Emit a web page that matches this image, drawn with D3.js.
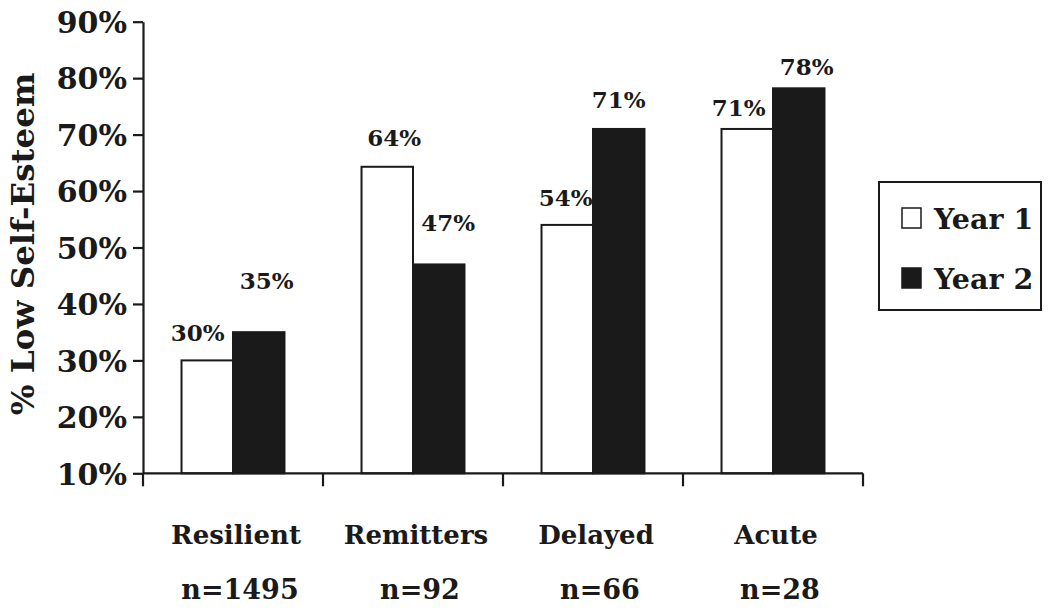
<!DOCTYPE html>
<html>
<head>
<meta charset="utf-8">
<script src="https://cdn.jsdelivr.net/npm/d3@7"></script>
<style>
  html, body { margin: 0; padding: 0; background: #fff; }
  svg { display: block; }
  text { font-family: "DejaVu Serif", "Liberation Serif", serif; font-weight: bold; fill: #1a1a1a; }
</style>
</head>
<body>
<svg id="chart" width="1050" height="614"></svg>
<script>
// ---- data ----
const categories = ["Resilient", "Remitters", "Delayed", "Acute"];
const sampleSizes = ["n=1495", "n=92", "n=66", "n=28"];
const series = ["Year 1", "Year 2"];
const year1 = [30, 64.3, 54, 71];
const year2 = [35, 47, 71, 78.2];
const year1Labels = ["30%", "64%", "54%", "71%"];
const year2Labels = ["35%", "47%", "71%", "78%"];
const yTicks = [10, 20, 30, 40, 50, 60, 70, 80, 90];

// ---- layout ----
const svg = d3.select("#chart");
const ink = "#1a1a1a";
const plotLeft = 143, plotRight = 863, plotTop = 21.7, plotBottom = 473.3;

const y = d3.scaleLinear().domain([10, 90]).range([plotBottom, plotTop]);
const x0 = d3.scaleBand().domain(categories).range([plotLeft, plotRight]).padding(0);
const x1 = d3.scaleBand().domain(series).range([0, x0.bandwidth()]).paddingInner(0).paddingOuter(0.748);

// label nudges (annotation layout, px): [dx, dy above bar top]
const nudge1 = [[-9.5, 19], [7, 20.5], [-1.5, 19], [-8.5, 13.3]];
const nudge2 = [[8, 43], [9.5, 33], [0, 21], [8, 13.7]];

const rows = categories.map((c, i) => ({ c, i, v: [year1[i], year2[i]], l: [year1Labels[i], year2Labels[i]] }));

// bars
const g = svg.append("g");
rows.forEach(r => {
  series.forEach((s, k) => {
    const xb = x0(r.c) + x1(s);
    g.append("rect")
      .attr("x", xb)
      .attr("y", y(r.v[k]))
      .attr("width", x1.bandwidth())
      .attr("height", y(10) - y(r.v[k]))
      .attr("fill", k === 0 ? "#fff" : ink)
      .attr("stroke", ink)
      .attr("stroke-width", 2);
    const nd = (k === 0 ? nudge1 : nudge2)[r.i];
    g.append("text")
      .attr("x", xb + x1.bandwidth() / 2 + nd[0])
      .attr("y", y(r.v[k]) - nd[1])
      .attr("text-anchor", "middle")
      .attr("font-size", 23)
      .text(r.l[k]);
  });
});

// y axis
const yAxis = d3.axisLeft(y).tickValues(yTicks).tickFormat(d => d + "%").tickSize(10).tickSizeOuter(0).tickPadding(6);
const ya = svg.append("g").attr("transform", `translate(${plotLeft},0)`).call(yAxis);
ya.attr("font-family", null);
ya.select(".domain").attr("stroke", ink).attr("stroke-width", 2.2);
ya.selectAll(".tick line").attr("stroke", ink).attr("stroke-width", 2.2);
ya.selectAll(".tick text").attr("font-size", 30).attr("fill", ink).attr("dy", "0.36em");

// x axis line and boundary ticks
const bounds = categories.map(c => x0(c)).concat([x0.range()[1]]);
svg.append("line").attr("x1", plotLeft).attr("x2", plotRight).attr("y1", plotBottom).attr("y2", plotBottom)
  .attr("stroke", ink).attr("stroke-width", 2.2);
svg.selectAll(".xtick").data(bounds).join("line")
  .attr("x1", d => d).attr("x2", d => d)
  .attr("y1", plotBottom).attr("y2", plotBottom + 13)
  .attr("stroke", ink).attr("stroke-width", 2.2);

// category labels
svg.selectAll(".cat").data(categories).join("text")
  .attr("x", d => x0(d) + x0.bandwidth() / 2 + 3)
  .attr("y", 544)
  .attr("text-anchor", "middle")
  .attr("font-size", 26)
  .text(d => d);
svg.selectAll(".n").data(sampleSizes).join("text")
  .attr("x", (d, i) => x0(categories[i]) + x0.bandwidth() / 2 + 7)
  .attr("y", 599)
  .attr("text-anchor", "middle")
  .attr("font-size", 27)
  .text(d => d);

// y title
svg.append("text")
  .attr("transform", `translate(34,244) rotate(-90)`)
  .attr("text-anchor", "middle")
  .attr("font-size", 32.5)
  .text("% Low Self-Esteem");

// legend
const lg = svg.append("g");
lg.append("rect").attr("x", 879).attr("y", 182).attr("width", 162).attr("height", 128)
  .attr("fill", "#fff").attr("stroke", ink).attr("stroke-width", 2);
series.forEach((s, k) => {
  const cy = k === 0 ? 218 : 278;
  lg.append("rect").attr("x", 902).attr("y", cy - 10).attr("width", 19).attr("height", 20)
    .attr("fill", k === 0 ? "#fff" : ink).attr("stroke", ink).attr("stroke-width", 1.5);
  lg.append("text").attr("x", 934).attr("y", cy + 11).attr("font-size", 28.5).text(s);
});
</script>
</body>
</html>
